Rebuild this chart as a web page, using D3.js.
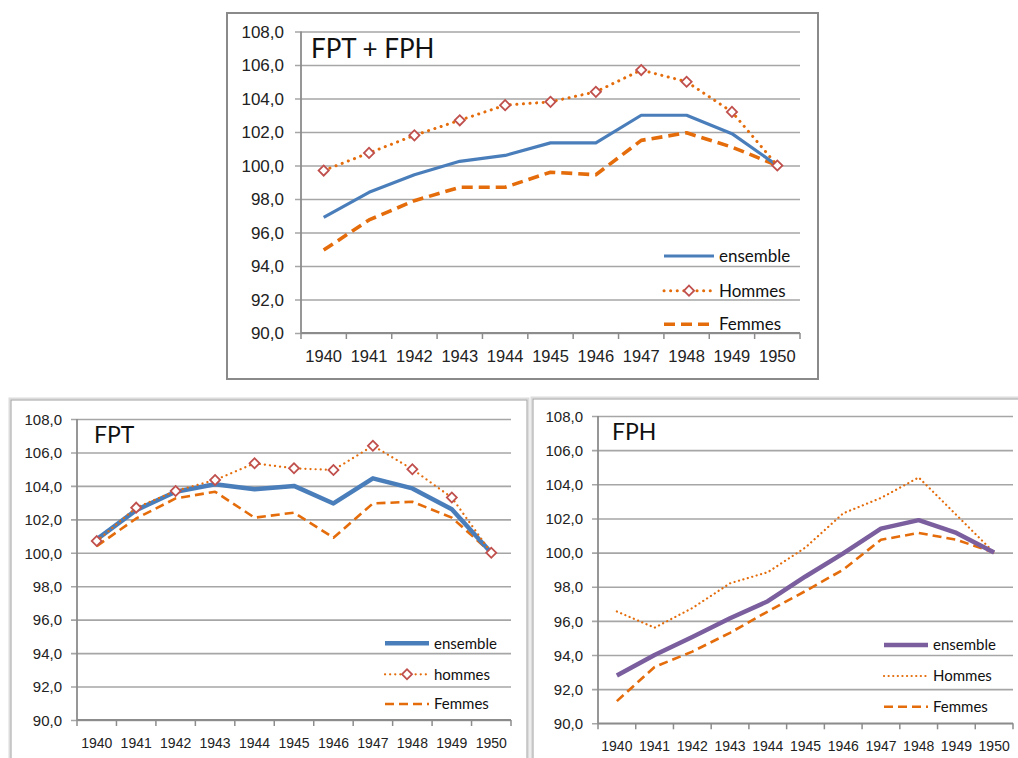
<!DOCTYPE html>
<html>
<head>
<meta charset="utf-8">
<script src="https://cdn.jsdelivr.net/npm/d3@7"></script>
<style>
  body { margin: 0; background: #fff; }
  svg { display: block; font-family: Lato, Carlito, "Open Sans", sans-serif; }
</style>
</head>
<body>
<svg id="chart" width="1018" height="758"></svg>
<script>
var years = ['1940', '1941', '1942', '1943', '1944', '1945', '1946', '1947', '1948', '1949', '1950'];
var yTicks = [90, 92, 94, 96, 98, 100, 102, 104, 106, 108];

// FPT + FPH
var allEnsemble = [96.9, 98.4, 99.45, 100.25, 100.6, 101.35, 101.35, 103.0, 103.0, 101.9, 100.0];
var allHommes = [99.7, 100.75, 101.8, 102.7, 103.6, 103.8, 104.4, 105.7, 105.0, 103.2, 100.0];
var allFemmes = [94.95, 96.75, 97.9, 98.7, 98.7, 99.6, 99.45, 101.5, 101.95, 101.1, 100.0];

// FPT
var fptEnsemble = [100.8, 102.55, 103.65, 104.1, 103.8, 104.0, 102.95, 104.45, 103.85, 102.6, 100.0];
var fptHommes = [100.7, 102.7, 103.7, 104.35, 105.35, 105.05, 104.95, 106.4, 105.0, 103.3, 100.0];
var fptFemmes = [100.4, 102.05, 103.25, 103.65, 102.1, 102.4, 100.9, 102.95, 103.05, 102.1, 100.0];

// FPH
var fphEnsemble = [92.8, 94.0, 95.05, 96.15, 97.15, 98.6, 99.95, 101.4, 101.9, 101.15, 100.0];
var fphHommes = [96.55, 95.6, 96.75, 98.2, 98.85, 100.3, 102.3, 103.2, 104.4, 102.2, 100.0];
var fphFemmes = [91.3, 93.3, 94.2, 95.3, 96.55, 97.75, 99.0, 100.75, 101.15, 100.75, 100.0];

var svg = d3.select('#chart');
var fmt = function(v) { return d3.format('.1f')(v).replace('.', ','); };

function drawPanel(cfg) {
  var g = svg.append('g');

  // frame
  if (cfg.outerStroke) {
    g.append('rect')
      .attr('x', cfg.frame[0] - 1.5).attr('y', cfg.frame[1] - 1.5)
      .attr('width', cfg.frame[2] + 3).attr('height', cfg.frame[3] + 3)
      .attr('fill', 'none').attr('stroke', cfg.outerStroke).attr('stroke-width', 2);
  }
  g.append('rect')
    .attr('x', cfg.frame[0]).attr('y', cfg.frame[1])
    .attr('width', cfg.frame[2]).attr('height', cfg.frame[3])
    .attr('fill', '#fff').attr('stroke', cfg.frameStroke).attr('stroke-width', cfg.frameWidth);

  var x = d3.scaleBand().domain(years).range([cfg.left, cfg.right]).padding(0);
  var y = d3.scaleLinear().domain([90, 108]).range([cfg.bottom, cfg.top]);
  var w = cfg.right - cfg.left;

  // y gridlines + labels
  var yAxis = g.append('g')
    .attr('transform', 'translate(' + cfg.left + ',0)')
    .call(d3.axisLeft(y).tickValues(yTicks).tickFormat(fmt).tickSize(-w).tickSizeOuter(0));
  yAxis.select('.domain').remove();
  yAxis.selectAll('.tick line')
    .attr('x1', -6).attr('x2', w)
    .attr('stroke', '#a6a6a6').attr('stroke-width', 1.6);
  yAxis.selectAll('.tick text')
    .attr('x', cfg.yLabelRight - cfg.left)
    .attr('dy', '0.35em')
    .attr('fill', '#222').attr('font-size', cfg.yFont);

  // vertical axis line
  g.append('line')
    .attr('x1', cfg.left).attr('x2', cfg.left)
    .attr('y1', cfg.top).attr('y2', cfg.bottom)
    .attr('stroke', '#8c8c8c').attr('stroke-width', 1.8);

  // x axis labels
  var xAxis = g.append('g')
    .attr('transform', 'translate(0,' + cfg.bottom + ')')
    .call(d3.axisBottom(x).tickSize(0).tickSizeOuter(0));
  xAxis.select('.domain').remove();
  xAxis.selectAll('.tick text')
    .attr('y', cfg.xLabelY - cfg.bottom)
    .attr('dy', '0.35em')
    .attr('fill', '#222').attr('font-size', cfg.xFont);

  // x baseline and boundary ticks
  g.append('line')
    .attr('x1', cfg.left).attr('x2', cfg.right)
    .attr('y1', cfg.bottom).attr('y2', cfg.bottom)
    .attr('stroke', '#8c8c8c').attr('stroke-width', 1.8);
  g.selectAll('.btick')
    .data(d3.range(years.length + 1))
    .enter().append('line')
    .attr('x1', function(i) { return cfg.left + i * x.step(); })
    .attr('x2', function(i) { return cfg.left + i * x.step(); })
    .attr('y1', cfg.bottom).attr('y2', cfg.bottom + 6)
    .attr('stroke', '#8c8c8c').attr('stroke-width', 1.5);

  // title
  g.append('text')
    .attr('x', cfg.title.x).attr('y', cfg.title.y)
    .attr('font-size', cfg.title.size).attr('fill', '#111')
    .text(cfg.title.text);

  var line = d3.line()
    .x(function(d, i) { return x(years[i]) + x.bandwidth() / 2; })
    .y(function(d) { return y(d); });

  // series: femmes, hommes, ensemble
  cfg.series.forEach(function(s) {
    g.append('path')
      .datum(s.values)
      .attr('d', line)
      .attr('fill', 'none')
      .attr('stroke', s.color)
      .attr('stroke-width', s.width)
      .attr('stroke-dasharray', s.dash || null)
      .attr('stroke-linecap', s.cap || 'butt')
      .attr('stroke-linejoin', 'round');
    if (s.marker) {
      g.selectAll(null)
        .data(s.values)
        .enter().append('path')
        .attr('d', d3.symbol(d3.symbolSquare, s.marker))
        .attr('transform', function(d, i) {
          return 'translate(' + (x(years[i]) + x.bandwidth() / 2) + ',' + y(d) + ') rotate(45)';
        })
        .attr('fill', '#fff')
        .attr('stroke', '#C0504D')
        .attr('stroke-width', 1.8);
    }
  });

  // legend
  var lg = cfg.legend;
  cfg.legendOrder.forEach(function(s, k) {
    var ly = lg.ys[k];
    g.append('line')
      .attr('x1', lg.x1).attr('x2', lg.x2)
      .attr('y1', ly).attr('y2', ly)
      .attr('stroke', s.color)
      .attr('stroke-width', s.width)
      .attr('stroke-dasharray', s.dash || null)
      .attr('stroke-linecap', s.cap || 'butt');
    if (s.marker) {
      g.append('path')
        .attr('d', d3.symbol(d3.symbolSquare, s.marker))
        .attr('transform', 'translate(' + ((lg.x1 + lg.x2) / 2) + ',' + ly + ') rotate(45)')
        .attr('fill', '#fff')
        .attr('stroke', '#C0504D')
        .attr('stroke-width', 1.8);
    }
    g.append('text')
      .attr('x', lg.tx).attr('y', ly)
      .attr('dy', '0.35em')
      .attr('font-size', lg.size).attr('fill', '#111')
      .text(s.name);
  });
}

// top chart
var topEns = { name: 'ensemble', values: allEnsemble, color: '#4A7EBB', width: 3.2 };
var topHom = { name: 'Hommes', values: allHommes, color: '#E46C0A', width: 3, dash: '0.1,6.5', cap: 'round', marker: 52 };
var topFem = { name: 'Femmes', values: allFemmes, color: '#E46C0A', width: 3.6, dash: '11,6' };
drawPanel({
  frame: [227, 13, 591, 366], frameStroke: '#8a8a8a', frameWidth: 2,
  left: 301, right: 800, top: 31.5, bottom: 333,
  yLabelRight: 284, yFont: 17, xLabelY: 356, xFont: 16.5,
  title: { text: 'FPT + FPH', x: 311, y: 58, size: 26 },
  series: [topFem, topEns, topHom],
  legendOrder: [topEns, topHom, topFem],
  legend: { x1: 664, x2: 714, tx: 719, ys: [256, 290.7, 324.3], size: 17 }
});

// bottom left chart
var fptEns = { name: 'ensemble', values: fptEnsemble, color: '#4A7EBB', width: 4.5 };
var fptHom = { name: 'hommes', values: fptHommes, color: '#E46C0A', width: 2.2, dash: '0.1,5', cap: 'round', marker: 50 };
var fptFem = { name: 'Femmes', values: fptFemmes, color: '#E46C0A', width: 2.6, dash: '9,5' };
drawPanel({
  frame: [11, 400, 516, 362], frameStroke: '#a0a0a0', frameWidth: 1, outerStroke: '#dcdcdc',
  left: 77, right: 511, top: 419, bottom: 720,
  yLabelRight: 62, yFont: 15, xLabelY: 743.5, xFont: 14,
  title: { text: 'FPT', x: 94, y: 443, size: 23 },
  series: [fptFem, fptEns, fptHom],
  legendOrder: [fptEns, fptHom, fptFem],
  legend: { x1: 385, x2: 429, tx: 434, ys: [643.3, 674.3, 704], size: 15 }
});

// bottom right chart
var fphEns = { name: 'ensemble', values: fphEnsemble, color: '#7B5E9E', width: 4.5 };
var fphHom = { name: 'Hommes', values: fphHommes, color: '#E46C0A', width: 2.2, dash: '0.1,4.5', cap: 'round' };
var fphFem = { name: 'Femmes', values: fphFemmes, color: '#E46C0A', width: 2.6, dash: '9,5' };
drawPanel({
  frame: [533, 399, 492, 364], frameStroke: '#a0a0a0', frameWidth: 1, outerStroke: '#dcdcdc',
  left: 598, right: 1013, top: 416, bottom: 723.3,
  yLabelRight: 583, yFont: 15, xLabelY: 746, xFont: 14,
  title: { text: 'FPH', x: 612, y: 440, size: 23 },
  series: [fphFem, fphHom, fphEns],
  legendOrder: [fphEns, fphHom, fphFem],
  legend: { x1: 884, x2: 928, tx: 933, ys: [645, 676, 706.7], size: 15 }
});
</script>
</body>
</html>
